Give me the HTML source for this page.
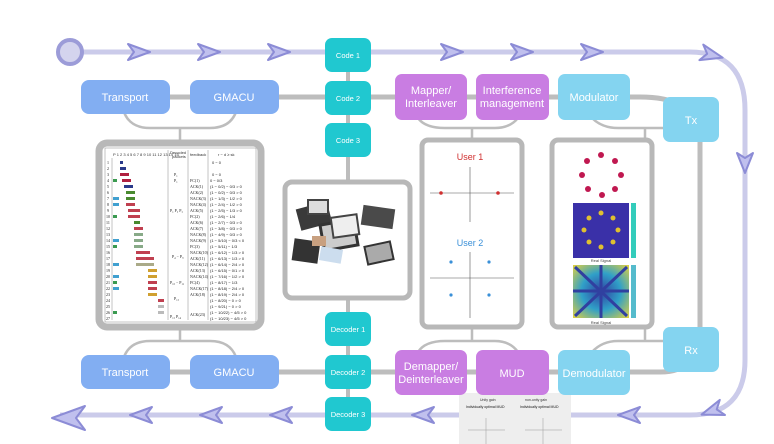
<!DOCTYPE html>
<html><head><meta charset="utf-8"><style>
html,body{margin:0;padding:0;background:#fff;}
svg{display:block;font-family:"Liberation Sans",sans-serif;}
.bx{font-size:11px;fill:#fff;text-anchor:middle;}
.sm{font-size:7.5px;fill:#fff;text-anchor:middle;}
.t{font-size:4px;fill:#333;}
</style></head><body>
<svg width="774" height="444" viewBox="0 0 774 444" xmlns="http://www.w3.org/2000/svg">
<!-- flow line -->
<path d="M70 52 H690 Q745 52 745 110 V360 Q745 415 690 415 H60" fill="none" stroke="#cbcbea" stroke-width="5"/>
<circle cx="70" cy="52" r="12" fill="#d4d4ee" stroke="#9c9cd8" stroke-width="4"/>
<g fill="#c0c0ee" stroke="#8c8cd6" stroke-width="2" stroke-linejoin="round">
<path d="M128 44 L150 52 L128 60 L134 52 Z"/>
<path d="M198 44 L220 52 L198 60 L204 52 Z"/>
<path d="M268 44 L290 52 L268 60 L274 52 Z"/>
<path d="M441 44 L463 52 L441 60 L447 52 Z"/>
<path d="M511 44 L533 52 L511 60 L517 52 Z"/>
<path d="M581 44 L603 52 L581 60 L587 52 Z"/>
<path d="M-11 -8 L11 0 L-11 8 L-5 0 Z" transform="translate(712 55) rotate(14)"/>
<path d="M737 153 L745 173 L753 153 L745 158 Z"/>
<path d="M11 -8 L-11 0 L11 8 L5 0 Z" transform="translate(712 411) rotate(-19)"/>
<path d="M640 407 L618 415 L640 423 L634 415 Z"/>
<path d="M434 407 L412 415 L434 423 L428 415 Z"/>
<path d="M292 407 L270 415 L292 423 L286 415 Z"/>
<path d="M222 407 L200 415 L222 423 L216 415 Z"/>
<path d="M152 407 L130 415 L152 423 L146 415 Z"/>
<path d="M85 406 L52 418 L85 430 L76 418 Z"/>
</g>
<!-- gray connectors -->
<g fill="none" stroke="#bdbdbd" stroke-width="5">
<path d="M81 97 H640 Q700 97 700 140 V330 Q700 372 660 372 H81"/>
</g>
<g fill="none" stroke="#bdbdbd" stroke-width="2.5">
<path d="M124 112 Q130 128 150 128 H210 Q230 128 236 112"/>
<line x1="180" y1="128" x2="180" y2="142"/>
<path d="M124 357 Q130 341 150 341 H210 Q230 341 236 357"/>
<line x1="180" y1="341" x2="180" y2="328"/>
<line x1="348" y1="60" x2="348" y2="410" stroke-width="4"/>
<path d="M418 118 Q425 128 445 128 H495 Q510 128 518 118"/>
<line x1="472" y1="128" x2="472" y2="140"/>
<path d="M418 352 Q425 341 445 341 H495 Q510 341 518 352"/>
<line x1="472" y1="341" x2="472" y2="328"/>
<path d="M592 118 Q602 128 618 128 H665"/>
<line x1="645" y1="128" x2="645" y2="140"/>
<path d="M592 352 Q602 341 618 341 H665"/>
<line x1="645" y1="341" x2="645" y2="328"/>
</g>
<!-- panels -->
<rect x="99" y="143" width="162" height="184" rx="8" fill="#fff" stroke="#b8b8b8" stroke-width="7"/>
<rect x="285" y="182" width="125" height="116" rx="7" fill="#fff" stroke="#b8b8b8" stroke-width="5"/>
<rect x="422" y="140" width="100" height="187" rx="6" fill="#fff" stroke="#b8b8b8" stroke-width="5"/>
<rect x="552" y="140" width="100" height="187" rx="6" fill="#fff" stroke="#b8b8b8" stroke-width="5"/>
<!-- table -->
<g stroke="#888" stroke-width="0.5" fill="none">
<rect x="105" y="148" width="151" height="174" fill="#fff"/>
<line x1="168" y1="150" x2="168" y2="320"/><line x1="188" y1="150" x2="188" y2="320"/><line x1="208" y1="150" x2="208" y2="320"/>
<line x1="112" y1="158" x2="112" y2="320"/>
</g>
<g class="t">
<text x="113" y="156">P 1 2 3 4 5 6 7 8 9 10 11 12 13 14 15</text>
<text x="170" y="154">Decoded</text><text x="172" y="158">packets</text>
<text x="190" y="156">feedback</text><text x="218" y="156">r − d ≥ sk</text>
</g>
<g font-size="4" fill="#222" font-family="Liberation Serif,serif">
<text x="107" y="164">1</text><text x="107" y="170">2</text><text x="107" y="176">3</text><text x="107" y="182">4</text><text x="107" y="188">5</text><text x="107" y="194">6</text><text x="107" y="200">7</text><text x="107" y="206">8</text><text x="107" y="212">9</text><text x="106" y="218">10</text><text x="106" y="224">11</text><text x="106" y="230">12</text><text x="106" y="236">13</text><text x="106" y="242">14</text><text x="106" y="248">15</text><text x="106" y="254">16</text><text x="106" y="260">17</text><text x="106" y="266">18</text><text x="106" y="272">19</text><text x="106" y="278">20</text><text x="106" y="284">21</text><text x="106" y="290">22</text><text x="106" y="296">23</text><text x="106" y="302">24</text><text x="106" y="308">25</text><text x="106" y="314">26</text><text x="106" y="320">27</text>
<text x="174" y="176">P₁</text><text x="174" y="182">P₁</text><text x="170" y="212">P₁ P₂ P₃</text><text x="172" y="258">P₄ − P₉</text><text x="170" y="284">P₁₀ − P₁₁</text><text x="174" y="300">P₁₂</text><text x="170" y="318">P₁₃ P₁₄</text>
<text x="190" y="182">FC(1)</text><text x="190" y="188">ACK(1)</text><text x="190" y="194">ACK(2)</text><text x="190" y="200">NACK(3)</text><text x="190" y="206">NACK(4)</text><text x="190" y="212">ACK(5)</text><text x="190" y="218">FC(2)</text><text x="190" y="224">ACK(6)</text><text x="190" y="230">ACK(7)</text><text x="190" y="236">NACK(8)</text><text x="190" y="242">NACK(9)</text><text x="190" y="248">FC(3)</text><text x="190" y="254">NACK(10)</text><text x="190" y="260">ACK(11)</text><text x="190" y="266">NACK(12)</text><text x="190" y="272">ACK(13)</text><text x="190" y="278">NACK(14)</text><text x="190" y="284">FC(4)</text><text x="190" y="290">NACK(17)</text><text x="190" y="296">ACK(18)</text><text x="190" y="316">ACK(23)</text>
</g>
<g font-size="4" fill="#222">
<text x="212" y="164">0 − 0</text><text x="212" y="176">0 − 0</text><text x="210" y="182">0 − 0/3</text>
<text x="210" y="188">(1 − 0/2) − 0/3 &gt; 0</text><text x="210" y="194">(1 − 0/2) − 0/3 &gt; 0</text><text x="210" y="200">(1 − 1/3) − 1/2 &gt; 0</text><text x="210" y="206">(1 − 2/4) − 1/2 &gt; 0</text><text x="210" y="212">(1 − 2/5) − 1/3 &gt; 0</text><text x="210" y="218">(1 − 2/6) − 1/4</text><text x="210" y="224">(1 − 2/7) − 0/3 &gt; 0</text><text x="210" y="230">(1 − 3/8) − 0/3 &gt; 0</text><text x="210" y="236">(1 − 4/9) − 0/3 &gt; 0</text><text x="210" y="242">(1 − 5/10) − 0/3 &lt; 0</text><text x="210" y="248">(1 − 5/11) − 1/3</text><text x="210" y="254">(1 − 6/12) − 1/3 &gt; 0</text><text x="210" y="260">(1 − 6/13) − 1/3 &gt; 0</text><text x="210" y="266">(1 − 6/14) − 2/4 &gt; 0</text><text x="210" y="272">(1 − 6/15) − 0/1 &gt; 0</text><text x="210" y="278">(1 − 7/16) − 1/2 &gt; 0</text><text x="210" y="284">(1 − 8/17) − 1/3</text><text x="210" y="290">(1 − 8/18) − 2/4 &gt; 0</text><text x="210" y="296">(1 − 8/19) − 2/4 &gt; 0</text><text x="210" y="302">(1 − 8/20) − 0 &gt; 0</text><text x="210" y="308">(1 − 9/21) − 0 &gt; 0</text><text x="210" y="314">(1 − 10/22) − 4/5 &gt; 0</text><text x="210" y="320">(1 − 10/23) − 4/5 &gt; 0</text>
</g>
<g>
<rect x="120" y="161" width="3" height="3" fill="#2a3a8a"/><rect x="120" y="167" width="6" height="3" fill="#2a3a8a"/><rect x="120" y="173" width="9" height="3" fill="#b02040"/><rect x="122" y="179" width="9" height="3" fill="#b02040"/>
<rect x="124" y="185" width="9" height="3" fill="#2a3a8a"/><rect x="126" y="191" width="9" height="3" fill="#4a8a30"/><rect x="126" y="197" width="9" height="3" fill="#4a8a30"/><rect x="126" y="203" width="9" height="3" fill="#c04050"/><rect x="128" y="209" width="12" height="3" fill="#c04050"/><rect x="128" y="215" width="12" height="3" fill="#c04050"/>
<rect x="134" y="221" width="6" height="3" fill="#4a8a30"/><rect x="134" y="227" width="9" height="3" fill="#c04050"/><rect x="134" y="233" width="9" height="3" fill="#8a8"/><rect x="134" y="239" width="9" height="3" fill="#8a8"/><rect x="134" y="245" width="9" height="3" fill="#8a8"/>
<rect x="136" y="251" width="14" height="3" fill="#c04050"/><rect x="136" y="257" width="18" height="3" fill="#c04050"/><rect x="136" y="263" width="18" height="3" fill="#aa8"/>
<rect x="148" y="269" width="9" height="3" fill="#d0a030"/><rect x="148" y="275" width="9" height="3" fill="#d0a030"/><rect x="148" y="281" width="9" height="3" fill="#c04050"/><rect x="148" y="287" width="9" height="3" fill="#c04050"/><rect x="148" y="293" width="9" height="3" fill="#d0a030"/>
<rect x="158" y="299" width="6" height="3" fill="#c04050"/><rect x="158" y="305" width="6" height="3" fill="#bbb"/><rect x="158" y="311" width="6" height="3" fill="#bbb"/>
<rect x="113" y="179" width="4" height="3" fill="#3a9a50"/><rect x="113" y="197" width="6" height="3" fill="#40a0d0"/><rect x="113" y="203" width="6" height="3" fill="#40a0d0"/><rect x="113" y="215" width="4" height="3" fill="#3a9a50"/><rect x="113" y="239" width="6" height="3" fill="#40a0d0"/><rect x="113" y="245" width="4" height="3" fill="#3a9a50"/><rect x="113" y="263" width="6" height="3" fill="#40a0d0"/><rect x="113" y="275" width="6" height="3" fill="#40a0d0"/><rect x="113" y="281" width="4" height="3" fill="#3a9a50"/><rect x="113" y="287" width="6" height="3" fill="#40a0d0"/><rect x="113" y="311" width="4" height="3" fill="#3a9a50"/>
</g>
<!-- chips -->
<g>
<rect x="298" y="205" width="32" height="22" fill="#3a3a3a" transform="rotate(-15 314 216)"/>
<rect x="308" y="200" width="20" height="14" fill="#ddd" stroke="#444" stroke-width="2"/>
<rect x="362" y="207" width="32" height="20" fill="#4a4a4a" transform="rotate(8 378 217)"/>
<rect x="322" y="222" width="34" height="26" fill="#ccc" stroke="#333" stroke-width="3" transform="rotate(-10 339 235)"/>
<rect x="332" y="216" width="26" height="20" fill="#eee" stroke="#444" stroke-width="2" transform="rotate(-8 345 226)"/>
<rect x="293" y="240" width="26" height="22" fill="#333" transform="rotate(8 306 251)"/>
<rect x="312" y="236" width="14" height="10" fill="#c8a080"/>
<rect x="320" y="248" width="22" height="14" fill="#cde" transform="rotate(10 331 255)"/>
<rect x="366" y="244" width="26" height="18" fill="#aaa" stroke="#333" stroke-width="2" transform="rotate(-12 379 253)"/>
</g>
<!-- constellation panel -->
<text x="470" y="160" font-size="9" fill="#d03030" text-anchor="middle">User 1</text>
<line x1="430" y1="193" x2="514" y2="193" stroke="#555" stroke-width="0.6"/><line x1="470" y1="167" x2="470" y2="222" stroke="#555" stroke-width="0.6"/>
<circle cx="441" cy="193" r="1.8" fill="#d03030"/><circle cx="498" cy="193" r="1.8" fill="#d03030"/>
<text x="470" y="246" font-size="9" fill="#3a90d8" text-anchor="middle">User 2</text>
<line x1="430" y1="278" x2="514" y2="278" stroke="#555" stroke-width="0.6"/><line x1="470" y1="252" x2="470" y2="318" stroke="#555" stroke-width="0.6"/>
<circle cx="451" cy="262" r="1.6" fill="#3a90d8"/><circle cx="489" cy="262" r="1.6" fill="#3a90d8"/><circle cx="451" cy="295" r="1.6" fill="#3a90d8"/><circle cx="489" cy="295" r="1.6" fill="#3a90d8"/>
<!-- modulation panel -->
<g fill="#c01850">
<circle cx="601" cy="155" r="3"/><circle cx="615" cy="161" r="3"/><circle cx="621" cy="175" r="3"/><circle cx="615" cy="189" r="3"/><circle cx="602" cy="195" r="3"/><circle cx="588" cy="189" r="3"/><circle cx="582" cy="175" r="3"/><circle cx="587" cy="161" r="3"/>
</g>
<rect x="573" y="203" width="56" height="55" fill="#3a30a8"/>
<g fill="#e0c030"><circle cx="601" cy="213" r="2.5"/><circle cx="613" cy="218" r="2.5"/><circle cx="618" cy="230" r="2.5"/><circle cx="613" cy="242" r="2.5"/><circle cx="601" cy="247" r="2.5"/><circle cx="589" cy="242" r="2.5"/><circle cx="584" cy="230" r="2.5"/><circle cx="589" cy="218" r="2.5"/></g>
<rect x="631" y="203" width="5" height="55" fill="#3cb"/>
<defs><radialGradient id="g" cx="0.5" cy="0.5" r="0.7"><stop offset="0" stop-color="#3040a0"/><stop offset="0.5" stop-color="#30a0c8"/><stop offset="1" stop-color="#e0d040"/></radialGradient></defs>
<rect x="573" y="265" width="56" height="53" fill="url(#g)"/>
<g stroke="#3040a0" stroke-width="3"><line x1="573" y1="291" x2="629" y2="291"/><line x1="601" y1="265" x2="601" y2="318"/><line x1="575" y1="267" x2="627" y2="316"/><line x1="627" y1="267" x2="575" y2="316"/></g>
<rect x="631" y="265" width="5" height="53" fill="#5bc"/>
<text x="601" y="262" font-size="4" fill="#444" text-anchor="middle">Real Signal</text>
<text x="601" y="324" font-size="4" fill="#444" text-anchor="middle">Real Signal</text>
<!-- MUD image -->
<rect x="459" y="393" width="112" height="51" fill="#eee"/>
<text x="480" y="401" font-size="3.5" fill="#333">Unity gain</text><text x="525" y="401" font-size="3.5" fill="#333">non-unity gain</text>
<text x="466" y="408" font-size="3.5" fill="#111">Individually optimal MUD</text><text x="520" y="408" font-size="3.5" fill="#111">Individually optimal MUD</text>
<line x1="468" y1="430" x2="505" y2="430" stroke="#999" stroke-width="0.5"/><line x1="486" y1="418" x2="486" y2="444" stroke="#999" stroke-width="0.5"/>
<line x1="525" y1="430" x2="562" y2="430" stroke="#999" stroke-width="0.5"/><line x1="543" y1="418" x2="543" y2="444" stroke="#999" stroke-width="0.5"/>
<!-- boxes -->
<g>
<rect x="81" y="80" width="89" height="34" rx="8" fill="#82aef2"/><text class="bx" x="125" y="101" font-size="12">Transport</text>
<rect x="190" y="80" width="89" height="34" rx="8" fill="#82aef2"/><text class="bx" x="234" y="101" font-size="12">GMACU</text>
<rect x="81" y="355" width="89" height="34" rx="8" fill="#82aef2"/><text class="bx" x="125" y="376" font-size="12">Transport</text>
<rect x="190" y="355" width="89" height="34" rx="8" fill="#82aef2"/><text class="bx" x="234" y="376" font-size="12">GMACU</text>
<rect x="325" y="38" width="46" height="34" rx="7" fill="#20c8d0"/><text class="sm" x="348" y="58">Code 1</text>
<rect x="325" y="81" width="46" height="34" rx="7" fill="#20c8d0"/><text class="sm" x="348" y="101">Code 2</text>
<rect x="325" y="123" width="46" height="34" rx="7" fill="#20c8d0"/><text class="sm" x="348" y="143">Code 3</text>
<rect x="325" y="312" width="46" height="34" rx="7" fill="#20c8d0"/><text class="sm" x="348" y="332">Decoder 1</text>
<rect x="325" y="355" width="46" height="34" rx="7" fill="#20c8d0"/><text class="sm" x="348" y="375">Decoder 2</text>
<rect x="325" y="397" width="46" height="34" rx="7" fill="#20c8d0"/><text class="sm" x="348" y="417">Decoder 3</text>
<rect x="395" y="74" width="72" height="46" rx="7" fill="#c97de2"/><text class="bx" x="431" y="94" font-size="10">Mapper/</text><text class="bx" x="431" y="107" font-size="10">Interleaver</text>
<rect x="476" y="74" width="73" height="46" rx="7" fill="#c97de2"/><text class="bx" x="512" y="94" font-size="10">Interference</text><text class="bx" x="512" y="107" font-size="10">management</text>
<rect x="558" y="74" width="72" height="46" rx="7" fill="#84d4f0"/><text class="bx" x="594" y="101" font-size="11">Modulator</text>
<rect x="663" y="97" width="56" height="45" rx="7" fill="#84d4f0"/><text class="bx" x="691" y="124" font-size="12">Tx</text>
<rect x="395" y="350" width="72" height="45" rx="7" fill="#c97de2"/><text class="bx" x="431" y="370" font-size="10">Demapper/</text><text class="bx" x="431" y="383" font-size="10">Deinterleaver</text>
<rect x="476" y="350" width="73" height="45" rx="7" fill="#c97de2"/><text class="bx" x="512" y="377" font-size="11">MUD</text>
<rect x="558" y="350" width="72" height="45" rx="7" fill="#84d4f0"/><text class="bx" x="594" y="377" font-size="11">Demodulator</text>
<rect x="663" y="327" width="56" height="45" rx="7" fill="#84d4f0"/><text class="bx" x="691" y="354" font-size="12">Rx</text>
</g>
</svg>
</body></html>
